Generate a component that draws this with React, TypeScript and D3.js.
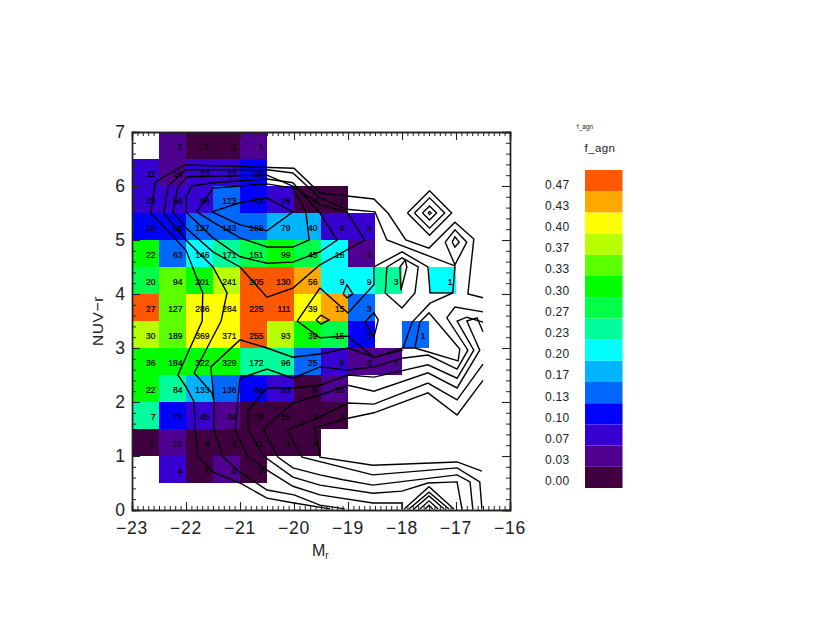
import { useEffect, useRef } from 'react';
import * as d3 from 'd3';

type Pt = [number, number];

// colour bar levels, bottom to top
const levelLabels = ['0.00', '0.03', '0.07', '0.10', '0.13', '0.17', '0.20', '0.23', '0.27', '0.30', '0.33', '0.37', '0.40', '0.43', '0.47'];
const levelColors = ['#400040', '#500090', '#3800d0', '#0000ff', '#0068ff', '#00b4ff', '#00ffff', '#00ff9c', '#00ff48', '#00ff00', '#5cff00', '#b8ff00', '#ffff00', '#ffa800', '#ff5800'];

// bins are 0.5 mag wide starting at -23, and 0.5 in colour
const magStart = -23;
const binSize = 0.5;

// each row: lower colour edge, then counts and f_agn level per column (null = no cell)
const rowEdges = [0.5, 1, 1.5, 2, 2.5, 3, 3.5, 4, 4.5, 5, 5.5, 6, 6.5];
const rowCounts: (number | null)[][] = [
  [null, 4, 1, 6, 2],
  [1, 10, 8, 5, 11, 2, 4],
  [7, 22, 45, 34, 29, 15, 2, 3],
  [22, 84, 133, 136, 88, 53, 8, 10],
  [36, 184, 322, 329, 172, 96, 25, 6, 3, 1],
  [30, 189, 369, 371, 255, 93, 39, 15, 3, null, 1],
  [27, 127, 286, 284, 225, 111, 39, 15, 3],
  [20, 94, 201, 241, 205, 130, 56, 9, 9, 3, null, 1],
  [22, 63, 146, 171, 151, 99, 45, 16, 2],
  [18, 68, 127, 143, 169, 79, 40, 8, 3],
  [23, 66, 98, 123, 74, 26, 4, 1],
  [11, 16, 33, 23, 18],
  [null, 2, 1, 1, 1],
];
const rowLevels: (string | null)[][] = [
  [null, '0.07', '0.00', '0.03', '0.00'],
  ['0.00', '0.03', '0.00', '0.00', '0.00', '0.00', '0.00'],
  ['0.23', '0.10', '0.07', '0.03', '0.00', '0.00', '0.00', '0.00'],
  ['0.30', '0.23', '0.17', '0.13', '0.10', '0.07', '0.00', '0.03'],
  ['0.30', '0.30', '0.30', '0.30', '0.23', '0.23', '0.13', '0.07', '0.03', '0.03'],
  ['0.37', '0.33', '0.40', '0.40', '0.47', '0.37', '0.30', '0.27', '0.10', null, '0.13'],
  ['0.47', '0.33', '0.40', '0.40', '0.47', '0.47', '0.40', '0.43', '0.13'],
  ['0.27', '0.33', '0.30', '0.37', '0.47', '0.47', '0.43', '0.20', '0.20', '0.23', null, '0.20'],
  ['0.30', '0.13', '0.20', '0.23', '0.27', '0.30', '0.27', '0.20', '0.03'],
  ['0.10', '0.10', '0.13', '0.13', '0.13', '0.17', '0.17', '0.07', '0.07'],
  ['0.07', '0.07', '0.07', '0.13', '0.10', '0.07', '0.00', '0.00'],
  ['0.07', '0.03', '0.07', '0.07', '0.10'],
  [null, '0.03', '0.00', '0.00', '0.03'],
];

// contour lines, in (M_r, NUV-r)
const contourLines: Pt[][] = [
  [[-19.33, 0.02], [-20, 0.13], [-20.5, 0.22], [-21, 0.5], [-21.5, 0.7], [-21.78, 1], [-21.83, 1.5], [-21.85, 2], [-22, 2.28], [-22.15, 2.5], [-21.7, 3.5], [-21.69, 4.02], [-22, 4.81], [-22.65, 5.5], [-22.57, 6.07], [-22.02, 6.39], [-20, 6.33], [-19.52, 5.87], [-18.52, 5.76], [-18.26, 5.5], [-17.93, 5], [-17.5, 4.85], [-17.02, 5.33], [-16.67, 5.02], [-16.78, 4], [-16.5, 3.93]],
  [[-19.06, 0.02], [-19.52, 0.09], [-20, 0.28], [-20.5, 0.37], [-21, 0.7], [-21.33, 1], [-21.48, 1.5], [-21.48, 2]],
  [[-21.48, 2], [-21.52, 2.17], [-21.85, 2.54], [-21.61, 3], [-21.35, 3.5], [-21.24, 4.02], [-21.5, 4.5], [-22, 5], [-22.41, 5.5], [-22.33, 6], [-22, 6.3], [-20.5, 6.3], [-20.02, 6.24], [-19.52, 5.78], [-19.02, 5.57], [-18.5, 5.52], [-18.28, 5], [-17.02, 4.52], [-17.06, 4.02], [-17.48, 3.83], [-17.81, 3.48], [-17.98, 3], [-18.5, 2.83], [-19, 3], [-19.52, 2.89], [-20.02, 2.83], [-20.5, 3], [-21, 3.15], [-21.54, 2.65], [-21.48, 2]],
  [[-17.06, 4.02], [-17.48, 4.02], [-17.52, 4.5], [-18, 4.78], [-18.52, 4.5], [-18.52, 4.17], [-19, 3.65], [-19.52, 4.11], [-19.94, 3.5], [-19.52, 3.19], [-19, 3.22], [-18.52, 2.83], [-17.98, 2.96]],
  [[-21.98, 6.17], [-20.5, 6.2], [-19.98, 5.98], [-19.52, 5.65], [-19.02, 5.52], [-18.69, 5], [-19.52, 4.54], [-20.02, 4.11], [-20.5, 3.94], [-21, 4.5], [-21.5, 4.78], [-22, 5.22], [-22.24, 5.52], [-22.15, 5.98], [-21.98, 6.17]],
  [[-22, 5.8], [-21.89, 6], [-21.5, 6.06], [-20.5, 6.13], [-20.02, 6.06], [-19.52, 5.5], [-19.2, 5], [-19.52, 4.78], [-20.02, 4.59], [-20.5, 4.57], [-21, 4.69], [-21.5, 5.04], [-22, 5.52], [-22, 5.8]],
  [[-21.8, 5.52], [-21.5, 5.96], [-20.5, 6.04], [-20.02, 5.96], [-19.78, 5.52], [-19.72, 5], [-20.02, 4.87], [-20.5, 4.87], [-21, 5.04], [-21.5, 5.33], [-21.8, 5.52]],
  [[-21.52, 5.52], [-21, 5.69], [-20.5, 5.78], [-20.02, 5.52], [-20.5, 5.17], [-21, 5.28], [-21.52, 5.52]],
  [[-16.5, 3.67], [-17.02, 3.76], [-17.17, 3.56], [-16.78, 2.96], [-16.98, 2.61], [-17.52, 2.87], [-18, 2.81], [-18.52, 2.65], [-19, 2.59], [-19.52, 2.65], [-20.02, 2.44], [-20.5, 2.61], [-21, 2.44], [-21.04, 2.04], [-21.09, 1.48], [-20.85, 0.98], [-20.5, 0.74], [-20.02, 0.44], [-19.52, 0.28], [-18.54, 0.13], [-18, 0.13], [-18, 0.02]],
  [[-16.5, 3.48], [-16.8, 3.57], [-16.98, 3.5], [-16.67, 2.96], [-16.98, 2.44], [-17.52, 2.69], [-18.52, 2.46], [-19, 2.5], [-19.52, 2.31], [-20.02, 2.26], [-20.5, 2.26], [-20.85, 1.85], [-20.85, 1.48], [-20.54, 0.98], [-20.02, 0.61], [-19.52, 0.46], [-18.54, 0.31], [-18, 0.35], [-17.52, 0.5], [-16.98, 0.52], [-16.89, 0.02]],
  [[-16.5, 3.3], [-16.61, 3.56], [-16.8, 3.5], [-16.56, 2.96], [-16.98, 2.26], [-17.52, 2.54], [-18.52, 2.2], [-19, 2.31], [-19.52, 2.13], [-20.02, 1.98], [-20.57, 1.5], [-20.3, 0.98], [-20.02, 0.78], [-19.52, 0.65], [-19.09, 0.56], [-18.54, 0.46], [-16.98, 0.65], [-16.74, 0.52], [-16.69, 0.02]],
  [[-16.5, 2.7], [-16.98, 2.04], [-17.52, 2.35], [-18.52, 1.96], [-19, 1.98], [-19.52, 1.72], [-20.13, 1.48], [-19.85, 0.98], [-18.54, 0.65], [-16.98, 0.78], [-16.56, 0.52], [-16.52, 0.02]],
  [[-16.5, 2.4], [-16.98, 1.76], [-17.52, 2.17], [-18.52, 1.8], [-19, 1.7], [-19.61, 1.52], [-19.52, 0.98], [-18.54, 0.83], [-16.98, 0.89], [-16.52, 0.72]],
  // chevrons on the lower axis
  [[-17.96, 0.02], [-17.5, 0.43], [-17.04, 0.02]],
  [[-17.87, 0.02], [-17.5, 0.33], [-17.13, 0.02]],
  [[-17.78, 0.02], [-17.5, 0.26], [-17.22, 0.02]],
  [[-17.67, 0.02], [-17.5, 0.17], [-17.33, 0.02]],
  [[-17.57, 0.02], [-17.5, 0.09], [-17.43, 0.02]],
  // small closed loops
  [[-19.09, 4], [-19.02, 4.17], [-18.91, 4], [-19.02, 3.93], [-19.09, 4]],
  [[-19.59, 3.52], [-19.5, 3.61], [-19.35, 3.52], [-19.5, 3.44], [-19.59, 3.52]],
  [[-18.69, 3.48], [-18.52, 3.65], [-18.44, 3.52], [-18.52, 3.2], [-18.69, 3.48]],
  [[-17.98, 3], [-17.76, 3], [-17.67, 3.48], [-17.5, 3.65], [-16.93, 2.98], [-16.96, 2.76], [-17.76, 3]],
  [[-18.28, 4.5], [-18, 4.67], [-17.7, 4.5], [-17.76, 4.02], [-18, 3.74], [-18.31, 4.02], [-18.28, 4.5]],
  [[-18.04, 4.5], [-17.94, 4.63], [-17.91, 4.5], [-18.02, 4.07], [-18.04, 4.5]],
  [[-17.2, 4.96], [-17.02, 5.19], [-16.8, 4.96], [-17.02, 4.54], [-17.2, 4.96]],
  [[-17.07, 4.96], [-17.02, 5.06], [-16.94, 4.96], [-17.02, 4.87], [-17.07, 4.96]],
  [[-17.9, 5.5], [-17.49, 5.91], [-17.08, 5.5], [-17.49, 5.09], [-17.9, 5.5]],
  [[-17.77, 5.5], [-17.49, 5.78], [-17.21, 5.5], [-17.49, 5.22], [-17.77, 5.5]],
  [[-17.62, 5.5], [-17.49, 5.63], [-17.36, 5.5], [-17.49, 5.37], [-17.62, 5.5]],
  [[-17.52, 5.5], [-17.49, 5.53], [-17.46, 5.5], [-17.49, 5.47], [-17.52, 5.5]],
];

const xMajor = [-23, -22, -21, -20, -19, -18, -17, -16];
const yMajor = [0, 1, 2, 3, 4, 5, 6, 7];

const FONT = '"Liberation Sans", Arial, sans-serif';
const TEXT_COLOR = '#222';

const App = () => {
  const svgRef = useRef<SVGSVGElement | null>(null);

  useEffect(() => {
    if (!svgRef.current) return;
    const svg = d3.select(svgRef.current);
    svg.selectAll('*').remove();

    const x = d3.scaleLinear().domain([-23, -16]).range([132, 510]);
    const y = d3.scaleLinear().domain([0, 7]).range([510, 132]);
    const color = d3.scaleOrdinal<string, string>().domain(levelLabels).range(levelColors);

    // cells and their counts
    const cells = rowEdges.flatMap((edge, r) =>
      rowCounts[r].map((count, c) => ({
        x0: magStart + c * binSize,
        y0: edge,
        count,
        level: rowLevels[r][c],
      })).filter(d => d.count !== null)
    );

    svg.selectAll('rect.cell')
      .data(cells)
      .enter()
      .append('rect')
      .attr('class', 'cell')
      .attr('x', d => x(d.x0))
      .attr('y', d => y(d.y0 + binSize))
      .attr('width', x(binSize) - x(0))
      .attr('height', y(0) - y(binSize))
      .attr('fill', d => color(d.level as string));

    svg.selectAll('text.count')
      .data(cells)
      .enter()
      .append('text')
      .attr('class', 'count')
      .attr('x', d => x(d.x0) + 23.5)
      .attr('y', d => y(d.y0 + binSize / 2) + 4.5)
      .attr('text-anchor', 'end')
      .attr('font-family', FONT)
      .attr('font-size', 8.5)
      .attr('fill', '#000')
      .attr('stroke', '#000')
      .attr('stroke-width', 0.2)
      .text(d => String(d.count));

    // contours
    const line = d3.line<Pt>().x(d => x(d[0])).y(d => y(d[1]));
    svg.selectAll('path.contour')
      .data(contourLines)
      .enter()
      .append('path')
      .attr('class', 'contour')
      .attr('d', d => line(d))
      .attr('fill', 'none')
      .attr('stroke', '#000')
      .attr('stroke-width', 1.4)
      .attr('stroke-linejoin', 'miter');

    // ticks on all four sides: minor ones first, then the major ones
    const xMinor = d3.range(-230, -159, 1).map(d => d / 10);
    const yMinor = d3.range(0, 36, 1).map(d => d / 5);
    const drawAxes = (xVals: number[], yVals: number[], size: number, width: number) => {
      const groups: [d3.Axis<d3.NumberValue>, number, number][] = [
        [d3.axisBottom(x).tickValues(xVals), 0, 510],
        [d3.axisTop(x).tickValues(xVals), 0, 132],
        [d3.axisLeft(y).tickValues(yVals), 132, 0],
        [d3.axisRight(y).tickValues(yVals), 510, 0],
      ];
      groups.forEach(([axis, tx, ty]) => {
        const g = svg.append('g')
          .attr('transform', `translate(${tx},${ty})`)
          .call(axis.tickSize(-size).tickFormat(() => ''));
        g.select('.domain').attr('stroke', '#222').attr('stroke-width', 1.4);
        g.selectAll('.tick line').attr('stroke', '#222').attr('stroke-width', width);
      });
    };
    drawAxes(xMinor, yMinor, 4, 1);
    drawAxes(xMajor, yMajor, 8, 1.1);

    const label = (tx: number, ty: number, s: string, size: number, anchor = 'middle') =>
      svg.append('text')
        .attr('x', tx).attr('y', ty)
        .attr('text-anchor', anchor)
        .attr('font-family', FONT)
        .attr('font-size', size)
        .attr('fill', TEXT_COLOR)
        .text(s);

    xMajor.forEach(v => { label(x(v), 534, `\u2212${Math.abs(v)}`, 17.5).attr('letter-spacing', 0.8); });
    yMajor.forEach(v => { label(125, y(v) + 6, String(v), 17.5, 'end'); });

    const mr = label(312, 556, 'M', 16, 'start');
    mr.append('tspan').attr('dy', 3).attr('font-size', 10).text('r');
    label(0, 0, 'NUV\u2212r', 15.5).attr('transform', `translate(103,321) rotate(-90)`).attr('letter-spacing', 0.6);

    // colour bar
    const bar = d3.scaleBand<string>().domain(levelLabels).range([488, 170]);
    svg.selectAll('rect.bar')
      .data(levelLabels)
      .enter()
      .append('rect')
      .attr('class', 'bar')
      .attr('x', 585)
      .attr('y', d => bar(d) as number)
      .attr('width', 37.5)
      .attr('height', bar.bandwidth())
      .attr('fill', d => color(d));
    levelLabels.forEach(l => {
      label(545, (bar(l) as number) + bar.bandwidth() / 2 + 8, l, 12, 'start').attr('letter-spacing', 0.3);
    });
    label(600, 152, 'f_agn', 11.5).attr('letter-spacing', 0.4);
    label(585, 129, 'f_agn', 6.5);
  }, []);

  return (
    <svg
      ref={svgRef}
      width={830}
      height={642}
      style={{ position: 'absolute', left: 0, top: 0, background: '#fff' }}
    ></svg>
  );
};

export default App;
